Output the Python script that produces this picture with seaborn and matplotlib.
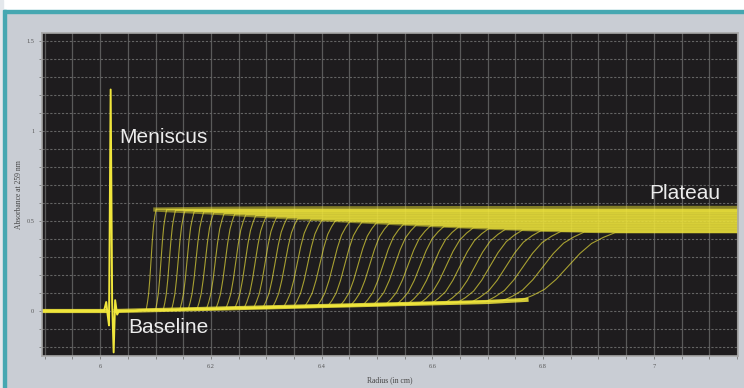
import pandas as pd
import seaborn as sns
import matplotlib.pyplot as plt
from matplotlib.patches import Rectangle
from matplotlib.ticker import MultipleLocator, FuncFormatter

# meniscus spike, radius (cm) / absorbance
meniscus_r = [5.895, 6.007, 6.011, 6.0135, 6.016, 6.019, 6.0217, 6.0244, 6.0271, 6.0307, 6.034]
meniscus_a = [0.0, 0.0, 0.05, -0.02, -0.08, 1.23, 0.05, -0.23, 0.06, -0.02, 0.0]

# noisy baseline where all scans overlap (before and after the meniscus)
pre_r = [5.895, 6.009]
pre_a = [0.0, 0.0]
baseline_r = [6.028, 6.1, 6.3, 6.5, 6.7, 6.77]
baseline_a = [0.0, 0.005, 0.02, 0.035, 0.05, 0.062]

# noisy plateau band: radius, lower and upper edge
band_r = [6.095, 6.2, 6.3, 6.4, 6.5, 6.6, 6.7, 6.8, 6.9, 7.152]
band_lo = [0.555, 0.538, 0.518, 0.500, 0.484, 0.468, 0.454, 0.442, 0.435, 0.435]
band_hi = [0.578, 0.582, 0.584, 0.585, 0.585, 0.586, 0.586, 0.586, 0.587, 0.587]

# one value per scan: boundary midpoint, half width, level below boundary, plateau
scan_mid = [6.092, 6.110, 6.125, 6.141, 6.157, 6.173, 6.190, 6.208, 6.226, 6.245,
            6.262, 6.280, 6.298, 6.316, 6.334, 6.356, 6.375, 6.397, 6.421, 6.442,
            6.466, 6.487, 6.511, 6.532, 6.556, 6.578, 6.601, 6.625, 6.650, 6.677,
            6.704, 6.733, 6.764, 6.800, 6.845]
scan_spread = [0.009, 0.010, 0.011, 0.012, 0.013, 0.014, 0.015, 0.016, 0.017, 0.018,
               0.019, 0.020, 0.021, 0.022, 0.023, 0.025, 0.026, 0.028, 0.030, 0.031,
               0.033, 0.035, 0.037, 0.039, 0.041, 0.043, 0.046, 0.049, 0.052, 0.055,
               0.059, 0.063, 0.068, 0.074, 0.085]
scan_base = [0.004, 0.005, 0.006, 0.007, 0.008, 0.009, 0.010, 0.011, 0.012, 0.013,
             0.014, 0.015, 0.016, 0.018, 0.019, 0.020, 0.021, 0.023, 0.024, 0.026,
             0.027, 0.029, 0.030, 0.032, 0.034, 0.035, 0.037, 0.039, 0.041, 0.043,
             0.046, 0.048, 0.051, 0.055, 0.060]
scan_top = [0.565, 0.562, 0.559, 0.556, 0.553, 0.550, 0.546, 0.542, 0.538, 0.534,
            0.530, 0.526, 0.522, 0.518, 0.514, 0.510, 0.506, 0.502, 0.498, 0.494,
            0.490, 0.486, 0.482, 0.478, 0.474, 0.470, 0.466, 0.462, 0.458, 0.454,
            0.450, 0.446, 0.442, 0.438, 0.435]

x_ticks = [6, 6.2, 6.4, 6.6, 6.8, 7]
y_ticks = [0, 0.5, 1, 1.5]

# boundary outline (offset in half widths, fraction of the step)
ramp_pos = [-1, -0.75, -0.5, -0.25, 0, 0.25, 0.5, 0.75, 1]
ramp_frac = [0, 0.07, 0.16, 0.31, 0.5, 0.69, 0.84, 0.93, 1]

r_min, r_max = 5.895, 7.152
rows = []
for i, (mid, sp, lo, hi) in enumerate(zip(scan_mid, scan_spread, scan_base, scan_top)):
    rows.append((i, 6.03, 0.0))
    for p, f in zip(ramp_pos, ramp_frac):
        rows.append((i, mid + p * sp, lo + f * (hi - lo)))
    rows.append((i, r_max, hi))
scans = pd.DataFrame(rows, columns=["scan", "radius", "absorbance"])

yellow = "#f0e63c"

fig = plt.figure(figsize=(7.44, 3.88), dpi=100, facecolor="#c9cdd4")
ax = fig.add_axes([42 / 744, 1 - 356 / 388, 696 / 744, 323 / 388])
ax.set_facecolor("#1e1c1e")

ax.fill_between(band_r, band_lo, band_hi, color="#d8cf30", alpha=0.55, lw=0)
sns.lineplot(data=scans, x="radius", y="absorbance", units="scan", estimator=None,
             color=yellow, lw=0.8, alpha=0.65, legend=False, ax=ax)
sns.lineplot(x=baseline_r, y=baseline_a, color=yellow, lw=3, alpha=0.85, ax=ax)
sns.lineplot(x=pre_r, y=pre_a, color=yellow, lw=3, alpha=0.9, ax=ax)
sns.lineplot(x=meniscus_r, y=meniscus_a, color=yellow, lw=1.4, sort=False, ax=ax)

ax.set_xlim(r_min, r_max)
ax.set_ylim(-0.25, 1.544)
ax.set_xticks(x_ticks)
ax.set_yticks(y_ticks)
ax.xaxis.set_minor_locator(MultipleLocator(0.05))
ax.yaxis.set_minor_locator(MultipleLocator(0.1))
fmt = FuncFormatter(lambda v, _: "%g" % v)
ax.xaxis.set_major_formatter(fmt)
ax.yaxis.set_major_formatter(fmt)

ax.set_axisbelow(True)
ax.grid(which="both", axis="x", color="#5a5a5a", lw=0.9)
ax.grid(which="both", axis="y", color="#646464", lw=0.8, ls=(0, (2, 1.5)))
ax.tick_params(which="both", direction="out", length=2.5, width=0.6, color="#7a7a7a",
               labelsize=4.5, labelcolor="#555555", pad=3)
for lab in ax.get_xticklabels() + ax.get_yticklabels():
    lab.set_family("Liberation Serif")
for s in ax.spines.values():
    s.set_color("#a8a8a8")
    s.set_linewidth(1.2)

ax.set_xlabel("Radius (in cm)", family="Liberation Serif", fontsize=5.5, color="#444444")
ax.set_ylabel("Absorbance at 259 nm", family="Liberation Serif", fontsize=5.5, color="#444444")
ax.xaxis.set_label_coords(0.5, -0.062)
ax.yaxis.set_label_coords(-0.028, 0.5)

txt = dict(family="Liberation Sans", fontsize=15, color="#ececec", ha="left", va="baseline")
ax.text(6.0343, 0.932, "Meniscus", **txt)
ax.text(6.050, -0.122, "Baseline", **txt)
ax.text(6.991, 0.622, "Plateau", **txt)

# screenshot frame
fig.add_artist(Rectangle((0, 1 - 10 / 388), 1, 10 / 388, color="white", transform=fig.transFigure))
fig.add_artist(Rectangle((0, 1 - 13 / 388), 1, 3 / 388, color="#46a7b1", transform=fig.transFigure))
fig.add_artist(Rectangle((0, 0), 3 / 744, 1, color="#e4e8ec", transform=fig.transFigure))
fig.add_artist(Rectangle((3 / 744, 0), 2.5 / 744, 1 - 10 / 388, color="#46a7b1", transform=fig.transFigure))

fig.savefig("out.png", dpi=100, facecolor=fig.get_facecolor())
